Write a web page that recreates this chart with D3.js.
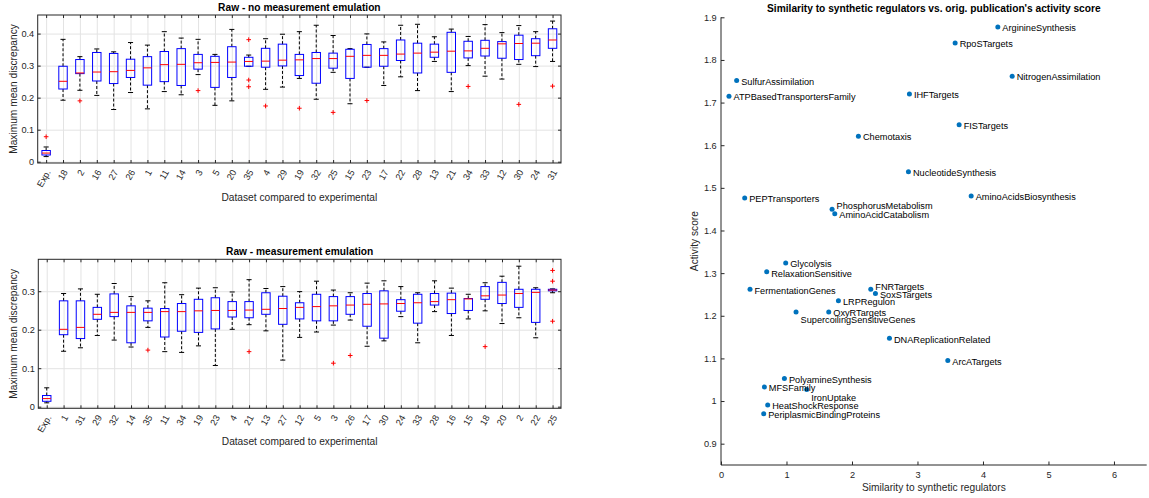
<!doctype html>
<html lang="en">
<head>
<meta charset="utf-8">
<style>
  body { margin: 0; background: #fff; }
  svg text { font-family: "Liberation Sans", Arial, Helvetica, sans-serif; fill: #262626; }
  .grid line { stroke: #e3e3e3; stroke-width: 1; }
  .grid path { display: none; }
  .ax path { display: none; }
  .ax line { stroke: #262626; }
  .ax text { font-size: 9.2px; }
</style>
</head>
<body>
<script src="https://d3js.org/d3.v7.min.js"></script>
<script>
// ---- boxplot 1: raw, no measurement emulation
var rawCats = ["Exp.","18","2","16","27","26","1","11","14","3","5","20","35","4","29","19","32","25","15","23","17","22","28","13","21","34","33","12","30","24","31"];
var rawLow  = [0.016,0.192,0.223,0.207,0.163,0.216,0.165,0.219,0.209,0.272,0.176,0.190,0.298,0.226,0.233,0.260,0.195,0.279,0.181,0.295,0.238,0.265,0.222,0.313,0.219,0.300,0.267,0.258,0.304,0.297,0.313];
var rawQ1   = [0.021,0.227,0.275,0.252,0.244,0.263,0.239,0.250,0.238,0.289,0.232,0.263,0.298,0.295,0.299,0.269,0.245,0.292,0.260,0.295,0.298,0.316,0.277,0.326,0.279,0.324,0.330,0.323,0.319,0.331,0.354];
var rawMed  = [0.027,0.251,0.277,0.280,0.281,0.285,0.293,0.303,0.304,0.309,0.310,0.311,0.313,0.314,0.317,0.318,0.322,0.322,0.329,0.332,0.332,0.336,0.339,0.342,0.345,0.346,0.354,0.368,0.369,0.370,0.380];
var rawQ3   = [0.035,0.298,0.319,0.341,0.338,0.320,0.328,0.344,0.353,0.335,0.329,0.359,0.326,0.354,0.367,0.335,0.341,0.339,0.351,0.366,0.353,0.380,0.370,0.367,0.404,0.376,0.379,0.375,0.395,0.384,0.415];
var rawHigh = [0.046,0.382,0.328,0.352,0.343,0.372,0.364,0.406,0.386,0.382,0.335,0.413,0.333,0.384,0.398,0.406,0.426,0.394,0.353,0.399,0.374,0.426,0.429,0.390,0.414,0.391,0.428,0.403,0.425,0.406,0.439];
var rawOutCat = ["Exp.","2","3","35","35","35","4","19","25","23","34","30","31"];
var rawOutVal = [0.078,0.190,0.222,0.381,0.255,0.234,0.174,0.167,0.154,0.191,0.235,0.179,0.236];
var rawTicks = [0, 0.1, 0.2, 0.3, 0.4];

// ---- boxplot 2: raw, measurement emulation
var emuCats = ["Exp.","1","31","29","32","14","35","11","34","19","23","4","21","13","27","12","5","3","26","17","30","24","33","28","16","15","18","20","2","22","25"];
var emuLow  = [0.010,0.144,0.153,0.185,0.173,0.155,0.206,0.143,0.141,0.158,0.107,0.201,0.213,0.197,0.121,0.180,0.194,0.212,0.225,0.157,0.171,0.234,0.166,0.247,0.185,0.228,0.249,0.216,0.231,0.179,0.296];
var emuQ1   = [0.014,0.187,0.177,0.227,0.234,0.166,0.223,0.181,0.196,0.193,0.202,0.233,0.231,0.240,0.214,0.228,0.223,0.223,0.240,0.209,0.178,0.248,0.217,0.264,0.242,0.250,0.279,0.268,0.258,0.219,0.301];
var emuMed  = [0.021,0.201,0.206,0.240,0.245,0.245,0.245,0.247,0.247,0.249,0.250,0.250,0.251,0.253,0.255,0.258,0.260,0.262,0.264,0.266,0.267,0.268,0.270,0.273,0.278,0.280,0.288,0.290,0.294,0.297,0.303];
var emuQ3   = [0.029,0.275,0.275,0.258,0.293,0.262,0.256,0.255,0.268,0.279,0.283,0.273,0.273,0.296,0.287,0.270,0.292,0.286,0.286,0.294,0.301,0.278,0.292,0.294,0.295,0.281,0.312,0.323,0.305,0.305,0.305];
var emuHigh = [0.049,0.294,0.306,0.292,0.320,0.286,0.275,0.322,0.291,0.308,0.309,0.298,0.330,0.307,0.312,0.299,0.326,0.303,0.296,0.321,0.327,0.312,0.296,0.327,0.308,0.292,0.322,0.339,0.365,0.309,0.306];
var emuOutCat = ["35","21","3","26","18","25","25","25"];
var emuOutVal = [0.147,0.143,0.113,0.133,0.156,0.354,0.326,0.222];
var emuTicks = [0, 0.1, 0.2, 0.3];

// ---- scatter: similarity vs activity score
var groups = ["ArginineSynthesis","RpoSTargets","NitrogenAssimilation","SulfurAssimilation","ATPBasedTransportersFamily","IHFTargets","FISTargets","Chemotaxis","NucleotideSynthesis","PEPTransporters","AminoAcidsBiosynthesis","PhosphorusMetabolism","AminoAcidCatabolism","Glycolysis","RelaxationSensitive","FermentationGenes","FNRTargets","SoxSTargets","LRPRegulon","SupercoilingSensitiveGenes","OxyRTargets","DNAReplicationRelated","ArcATargets","PolyamineSynthesis","MFSFamily","IronUptake","HeatShockResponse","PeriplasmicBindingProteins"];
var similarity = [4.227,3.575,4.446,0.239,0.122,2.877,3.636,2.098,2.862,0.362,3.820,1.696,1.737,0.988,0.698,0.443,2.287,2.358,1.793,1.146,1.645,2.572,3.463,0.968,0.662,1.309,0.713,0.652];
var activity   = [1.877,1.840,1.762,1.752,1.715,1.720,1.648,1.621,1.538,1.476,1.481,1.450,1.439,1.324,1.303,1.262,1.262,1.252,1.235,1.209,1.209,1.147,1.095,1.053,1.033,1.027,0.991,0.970];
var simTicks = [0, 1, 2, 3, 4, 5, 6];
var actTicks = [0.9, 1, 1.1, 1.2, 1.3, 1.4, 1.5, 1.6, 1.7, 1.8, 1.9];

// label nudges (px) where the text sits off the default spot
var labelNudge = { PhosphorusMetabolism: -4, FNRTargets: -4, SupercoilingSensitiveGenes: 7, IronUptake: 7, RelaxationSensitive: 1 };

var fmt = function(d) { return String(+d.toFixed(1)); };

var svg = d3.select("body").append("svg")
    .attr("width", 1149)
    .attr("height", 498);

function boxPanel(o) {
  var w = o.right - o.left, h = o.bottom - o.top;
  var x = d3.scalePoint().domain(o.cats).range([0, w]).padding(0.5);
  var y = d3.scaleLinear().domain(o.ylim).range([h, 0]);
  var bw = x.step() * 0.5, cw = x.step() * 0.3;

  var g = svg.append("g").attr("transform", "translate(" + o.left + "," + o.top + ")");

  // grid
  g.append("g").attr("class", "grid")
   .call(d3.axisBottom(x).tickSize(h).tickFormat(""));
  g.append("g").attr("class", "grid")
   .call(d3.axisLeft(y).tickValues(o.yticks).tickSize(-w).tickFormat(""));

  var rows = o.cats.map(function(c, i) {
    return { c: c, lo: o.low[i], q1: o.q1[i], med: o.med[i], q3: o.q3[i], hi: o.high[i] };
  });

  var b = g.selectAll("g.box").data(rows).join("g").attr("class", "box");
  // dashed whiskers
  b.append("line")
   .attr("x1", function(d) { return x(d.c); }).attr("x2", function(d) { return x(d.c); })
   .attr("y1", function(d) { return y(d.q3); }).attr("y2", function(d) { return y(d.hi); })
   .attr("stroke", "#000").attr("stroke-dasharray", "3,2");
  b.append("line")
   .attr("x1", function(d) { return x(d.c); }).attr("x2", function(d) { return x(d.c); })
   .attr("y1", function(d) { return y(d.q1); }).attr("y2", function(d) { return y(d.lo); })
   .attr("stroke", "#000").attr("stroke-dasharray", "3,2");
  // caps
  ["hi", "lo"].forEach(function(k) {
    b.append("line")
     .attr("x1", function(d) { return x(d.c) - cw / 2; }).attr("x2", function(d) { return x(d.c) + cw / 2; })
     .attr("y1", function(d) { return y(d[k]); }).attr("y2", function(d) { return y(d[k]); })
     .attr("stroke", "#000");
  });
  // box
  b.append("rect")
   .attr("x", function(d) { return x(d.c) - bw / 2; })
   .attr("y", function(d) { return y(d.q3); })
   .attr("width", bw)
   .attr("height", function(d) { return Math.max(1, y(d.q1) - y(d.q3)); })
   .attr("fill", "none").attr("stroke", "#0000ff");
  // median
  b.append("line")
   .attr("x1", function(d) { return x(d.c) - bw / 2; }).attr("x2", function(d) { return x(d.c) + bw / 2; })
   .attr("y1", function(d) { return y(d.med); }).attr("y2", function(d) { return y(d.med); })
   .attr("stroke", "#ff0000");

  // outliers as '+'
  var outs = o.outCat.map(function(c, i) { return { c: c, v: o.outVal[i] }; });
  g.selectAll("path.out").data(outs).join("path")
   .attr("class", "out")
   .attr("d", function(d) {
     var cx = x(d.c), cy = y(d.v), s = 2.3;
     return "M" + (cx - s) + "," + cy + "H" + (cx + s) + "M" + cx + "," + (cy - s) + "V" + (cy + s);
   })
   .attr("stroke", "#ff0000").attr("fill", "none");

  // frame + inward ticks on all sides
  g.append("rect").attr("width", w).attr("height", h)
   .attr("fill", "none").attr("stroke", "#262626");
  g.append("g").attr("class", "ax")
   .call(d3.axisLeft(y).tickValues(o.yticks).tickSize(-3).tickPadding(3.5).tickFormat(fmt));
  g.append("g").attr("class", "ax").attr("transform", "translate(" + w + ",0)")
   .call(d3.axisRight(y).tickValues(o.yticks).tickSize(-3).tickFormat(""));
  g.append("g").attr("class", "ax")
   .call(d3.axisTop(x).tickSize(-3).tickFormat(""));
  g.append("g").attr("class", "ax").attr("transform", "translate(0," + h + ")")
   .call(d3.axisBottom(x).tickSize(-3).tickFormat(""));

  // rotated category labels
  g.selectAll("text.xl").data(o.cats).join("text")
   .attr("class", "xl")
   .attr("transform", function(d) { return "translate(" + (x(d) + 5) + "," + (h + 9) + ") rotate(-60)"; })
   .attr("text-anchor", "end")
   .style("font-size", "9.2px")
   .text(function(d) { return d; });

  g.append("text")
   .attr("x", w / 2).attr("y", -4.5)
   .attr("text-anchor", "middle")
   .style("font-size", "10.2px").style("font-weight", "bold").style("fill", "#000")
   .text(o.title);
  g.append("text")
   .attr("x", w / 2).attr("y", h + o.xlabGap)
   .attr("text-anchor", "middle")
   .style("font-size", "10.2px")
   .text("Dataset compared to experimental");
  g.append("text")
   .attr("transform", "translate(" + (17.3 - o.left) + "," + (h / 2) + ") rotate(-90)")
   .attr("text-anchor", "middle")
   .style("font-size", "10.2px")
   .text("Maximum mean discrepancy");
}

boxPanel({
  left: 37.7, right: 561, top: 15, bottom: 163,
  ylim: [-0.004, 0.458], yticks: rawTicks,
  cats: rawCats, low: rawLow, q1: rawQ1, med: rawMed, q3: rawQ3, high: rawHigh,
  outCat: rawOutCat, outVal: rawOutVal,
  title: "Raw - no measurement emulation", xlabGap: 38
});

boxPanel({
  left: 38.3, right: 561, top: 259.3, bottom: 408.3,
  ylim: [-0.0042, 0.3829], yticks: emuTicks,
  cats: emuCats, low: emuLow, q1: emuQ1, med: emuMed, q3: emuQ3, high: emuHigh,
  outCat: emuOutCat, outVal: emuOutVal,
  title: "Raw - measurement emulation", xlabGap: 36.5
});

// ---- scatter panel
(function() {
  var L = 721, R = 1146.7, T = 17.3, B = 465;
  var w = R - L, h = B - T;
  var x = d3.scaleLinear().domain([0, 6.5]).range([0, w]);
  var y = d3.scaleLinear().domain([0.85, 1.9]).range([h, 0]);
  var g = svg.append("g").attr("transform", "translate(" + L + "," + T + ")");

  g.append("line").attr("x1", 0).attr("x2", 0).attr("y1", 0).attr("y2", h).attr("stroke", "#262626");
  g.append("line").attr("x1", 0).attr("x2", w).attr("y1", h).attr("y2", h).attr("stroke", "#262626");
  g.append("g").attr("class", "ax")
   .call(d3.axisLeft(y).tickValues(actTicks).tickSize(-3.5).tickPadding(4.3).tickFormat(fmt));
  g.append("g").attr("class", "ax").attr("transform", "translate(0," + h + ")")
   .call(d3.axisBottom(x).tickValues(simTicks).tickSize(-3.5).tickPadding(6).tickFormat(fmt));

  var pts = groups.map(function(n, i) { return { n: n, s: similarity[i], a: activity[i] }; });
  g.selectAll("circle").data(pts).join("circle")
   .attr("cx", function(d) { return x(d.s); })
   .attr("cy", function(d) { return y(d.a); })
   .attr("r", 2.5)
   .attr("fill", "#0072bd");
  g.selectAll("text.lab").data(pts).join("text")
   .attr("class", "lab")
   .attr("x", function(d) { return x(d.s) + 4.5; })
   .attr("y", function(d) { return y(d.a) + 1 + (labelNudge[d.n] || 0); })
   .attr("dy", "0.35em")
   .style("font-size", "9.2px")
   .style("fill", "#000")
   .text(function(d) { return d.n; });

  g.append("text")
   .attr("x", w / 2).attr("y", -5.3)
   .attr("text-anchor", "middle")
   .style("font-size", "10.2px").style("font-weight", "bold").style("fill", "#000")
   .text("Similarity to synthetic regulators vs. orig. publication's activity score");
  g.append("text")
   .attr("x", w / 2).attr("y", h + 26.5)
   .attr("text-anchor", "middle")
   .style("font-size", "10.2px")
   .text("Similarity to synthetic regulators");
  g.append("text")
   .attr("transform", "translate(" + (698 - L) + "," + (h / 2) + ") rotate(-90)")
   .attr("text-anchor", "middle")
   .style("font-size", "10.2px")
   .text("Activity score");
})();
</script>
</body>
</html>
